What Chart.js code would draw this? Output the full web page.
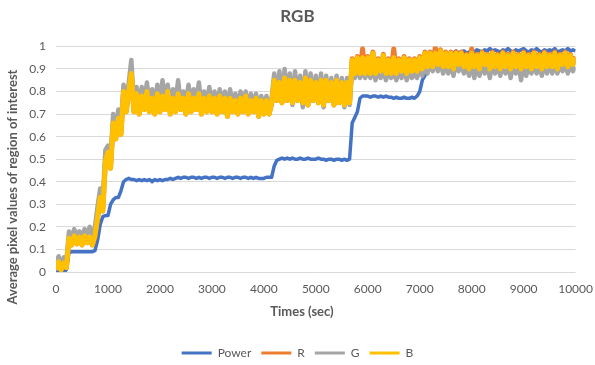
<!DOCTYPE html>
<html><head><meta charset="utf-8">
<script src="https://cdn.jsdelivr.net/npm/chart.js@4/dist/chart.umd.min.js"></script>
<style>html,body{margin:0;padding:0;background:#fff}</style>
</head><body>
<canvas id="c" width="595" height="365"></canvas>
<script>
const chartTitle = 'RGB';
const xTitle = 'Times (sec)';
const yTitle = 'Average pixel values of region of interest';
const seriesNames = ['Power', 'R', 'G', 'B'];

const times = [
  0,50,100,150,200,250,300,350,400,450,
  500,550,600,650,700,750,800,850,900,950,
  1000,1050,1100,1150,1200,1250,1300,1350,1400,1450,
  1500,1550,1600,1650,1700,1750,1800,1850,1900,1950,
  2000,2050,2100,2150,2200,2250,2300,2350,2400,2450,
  2500,2550,2600,2650,2700,2750,2800,2850,2900,2950,
  3000,3050,3100,3150,3200,3250,3300,3350,3400,3450,
  3500,3550,3600,3650,3700,3750,3800,3850,3900,3950,
  4000,4050,4100,4150,4200,4250,4300,4350,4400,4450,
  4500,4550,4600,4650,4700,4750,4800,4850,4900,4950,
  5000,5050,5100,5150,5200,5250,5300,5350,5400,5450,
  5500,5550,5600,5650,5700,5750,5800,5850,5900,5950,
  6000,6050,6100,6150,6200,6250,6300,6350,6400,6450,
  6500,6550,6600,6650,6700,6750,6800,6850,6900,6950,
  7000,7050,7100,7150,7200,7250,7300,7350,7400,7450,
  7500,7550,7600,7650,7700,7750,7800,7850,7900,7950,
  8000,8050,8100,8150,8200,8250,8300,8350,8400,8450,
  8500,8550,8600,8650,8700,8750,8800,8850,8900,8950,
  9000,9050,9100,9150,9200,9250,9300,9350,9400,9450,
  9500,9550,9600,9650,9700,9750,9800,9850,9900,9950,
  10000
];

const power = [
  0.00,0.00,0.00,0.00,0.01,0.085,0.09,0.09,0.09,0.09,
  0.09,0.09,0.09,0.09,0.09,0.095,0.14,0.21,0.245,0.25,
  0.25,0.30,0.32,0.33,0.33,0.36,0.40,0.41,0.415,0.41,
  0.41,0.405,0.41,0.405,0.41,0.405,0.41,0.40,0.41,0.405,
  0.41,0.405,0.41,0.41,0.415,0.41,0.415,0.42,0.415,0.42,
  0.42,0.415,0.42,0.42,0.415,0.42,0.415,0.42,0.42,0.415,
  0.42,0.42,0.415,0.42,0.42,0.415,0.42,0.42,0.415,0.42,
  0.42,0.415,0.42,0.42,0.415,0.42,0.415,0.42,0.415,0.415,
  0.415,0.42,0.42,0.42,0.47,0.495,0.50,0.505,0.50,0.505,
  0.50,0.505,0.50,0.50,0.505,0.50,0.50,0.505,0.50,0.50,
  0.50,0.505,0.50,0.50,0.495,0.50,0.50,0.495,0.50,0.50,
  0.495,0.50,0.495,0.50,0.66,0.685,0.71,0.77,0.78,0.78,
  0.78,0.775,0.78,0.78,0.775,0.78,0.775,0.78,0.775,0.775,
  0.77,0.775,0.77,0.77,0.775,0.77,0.77,0.775,0.77,0.78,
  0.80,0.85,0.87,0.90,0.93,0.95,0.96,0.97,0.96,0.97,
  0.97,0.96,0.975,0.97,0.98,0.97,0.975,0.98,0.97,0.975,
  0.98,0.975,0.985,0.98,0.975,0.985,0.98,0.99,0.98,0.985,
  0.98,0.975,0.985,0.98,0.99,0.98,0.975,0.985,0.98,0.985,
  0.99,0.98,0.975,0.985,0.98,0.99,0.98,0.975,0.985,0.98,
  0.985,0.98,0.99,0.975,0.98,0.985,0.98,0.99,0.98,0.985,
  0.98
];

const red = [
  0.01,0.04,0.01,0.035,0.02,0.145,0.12,0.155,0.125,0.15,
  0.12,0.155,0.13,0.15,0.12,0.155,0.24,0.325,0.27,0.485,
  0.525,0.46,0.655,0.59,0.675,0.61,0.795,0.71,0.795,0.875,
  0.71,0.785,0.70,0.775,0.72,0.795,0.71,0.765,0.70,0.785,
  0.71,0.775,0.72,0.795,0.70,0.765,0.71,0.785,0.72,0.765,
  0.70,0.785,0.71,0.765,0.72,0.785,0.70,0.765,0.71,0.775,
  0.71,0.765,0.70,0.775,0.71,0.765,0.69,0.765,0.71,0.755,
  0.70,0.765,0.71,0.775,0.70,0.755,0.71,0.765,0.69,0.755,
  0.70,0.755,0.70,0.745,0.845,0.76,0.835,0.75,0.855,0.76,
  0.845,0.75,0.845,0.76,0.835,0.75,0.855,0.74,0.845,0.76,
  0.835,0.75,0.845,0.74,0.845,0.76,0.835,0.74,0.845,0.75,
  0.835,0.74,0.835,0.75,0.945,0.88,0.955,0.88,0.99,0.88,
  0.955,0.88,0.975,0.88,0.945,0.89,0.965,0.88,0.945,0.88,
  0.99,0.88,0.945,0.89,0.955,0.88,0.945,0.89,0.945,0.89,
  0.955,0.90,0.975,0.91,0.975,0.91,0.995,0.92,0.985,0.91,
  0.975,0.91,0.975,0.90,0.975,0.92,0.975,0.91,0.965,0.90,
  0.99,0.91,0.965,0.90,0.975,0.92,0.965,0.90,0.975,0.91,
  0.965,0.90,0.975,0.91,0.965,0.90,0.975,0.91,0.965,0.90,
  0.975,0.91,0.965,0.90,0.975,0.91,0.965,0.90,0.975,0.91,
  0.965,0.91,0.975,0.90,0.965,0.92,0.975,0.91,0.965,0.92,
  0.955
];

const green = [
  0.04,0.07,0.035,0.065,0.05,0.18,0.15,0.19,0.16,0.18,
  0.16,0.19,0.17,0.20,0.16,0.20,0.29,0.37,0.32,0.54,
  0.56,0.51,0.70,0.65,0.72,0.66,0.83,0.75,0.84,0.94,
  0.74,0.82,0.74,0.82,0.76,0.84,0.74,0.81,0.74,0.83,
  0.75,0.85,0.76,0.83,0.74,0.81,0.75,0.85,0.75,0.80,
  0.74,0.83,0.75,0.81,0.76,0.84,0.74,0.80,0.75,0.82,
  0.74,0.80,0.73,0.81,0.74,0.80,0.72,0.81,0.74,0.79,
  0.73,0.80,0.74,0.80,0.73,0.79,0.74,0.79,0.72,0.78,
  0.72,0.78,0.72,0.77,0.88,0.77,0.89,0.76,0.90,0.78,
  0.88,0.74,0.89,0.77,0.87,0.73,0.89,0.75,0.88,0.76,
  0.87,0.75,0.88,0.73,0.87,0.76,0.86,0.74,0.87,0.75,
  0.86,0.73,0.86,0.74,0.90,0.86,0.91,0.86,0.90,0.86,
  0.90,0.86,0.91,0.85,0.89,0.86,0.90,0.85,0.89,0.86,
  0.89,0.85,0.89,0.86,0.90,0.85,0.89,0.86,0.88,0.86,
  0.90,0.87,0.92,0.88,0.93,0.89,0.93,0.89,0.94,0.88,
  0.93,0.88,0.93,0.87,0.93,0.89,0.93,0.88,0.92,0.87,
  0.93,0.86,0.92,0.87,0.93,0.88,0.92,0.86,0.93,0.88,
  0.92,0.87,0.93,0.88,0.92,0.86,0.93,0.88,0.92,0.85,
  0.93,0.87,0.92,0.88,0.93,0.88,0.92,0.87,0.93,0.88,
  0.92,0.88,0.93,0.88,0.92,0.89,0.93,0.88,0.92,0.89,
  0.91
];

const blue = [
  0.01,0.045,0.01,0.04,0.02,0.15,0.12,0.16,0.125,0.155,
  0.12,0.16,0.13,0.155,0.12,0.16,0.24,0.33,0.27,0.49,
  0.53,0.46,0.66,0.59,0.68,0.61,0.80,0.71,0.80,0.88,
  0.71,0.79,0.70,0.78,0.72,0.80,0.71,0.77,0.70,0.79,
  0.71,0.78,0.72,0.80,0.70,0.77,0.71,0.79,0.72,0.77,
  0.70,0.79,0.71,0.77,0.72,0.79,0.70,0.77,0.71,0.78,
  0.71,0.77,0.70,0.78,0.71,0.77,0.69,0.77,0.71,0.76,
  0.70,0.77,0.71,0.78,0.70,0.76,0.71,0.77,0.69,0.76,
  0.70,0.76,0.70,0.75,0.85,0.76,0.84,0.75,0.86,0.76,
  0.85,0.75,0.85,0.76,0.84,0.75,0.86,0.74,0.85,0.76,
  0.84,0.75,0.85,0.74,0.85,0.76,0.84,0.74,0.85,0.75,
  0.84,0.74,0.84,0.75,0.94,0.88,0.95,0.88,0.95,0.88,
  0.95,0.88,0.97,0.88,0.94,0.89,0.96,0.88,0.94,0.88,
  0.95,0.88,0.94,0.89,0.95,0.88,0.94,0.89,0.94,0.89,
  0.95,0.90,0.97,0.91,0.97,0.91,0.97,0.92,0.98,0.91,
  0.97,0.91,0.97,0.90,0.97,0.92,0.97,0.91,0.96,0.90,
  0.97,0.91,0.96,0.90,0.97,0.92,0.96,0.90,0.97,0.91,
  0.96,0.90,0.97,0.91,0.96,0.90,0.97,0.91,0.96,0.90,
  0.97,0.91,0.96,0.90,0.97,0.91,0.96,0.90,0.97,0.91,
  0.96,0.91,0.97,0.90,0.96,0.92,0.97,0.91,0.96,0.92,
  0.95
];

const xTicks = [0,1000,2000,3000,4000,5000,6000,7000,8000,9000,10000];
const yTicks = [0,0.1,0.2,0.3,0.4,0.5,0.6,0.7,0.8,0.9,1];

const colors = ['#4472C4', '#ED7D31', '#A5A5A5', '#FFC000'];
const widths = [3.5, 5, 4.5, 5];
const drawOrder = [4, 3, 2, 1];
const values = [power, red, green, blue];

const FONT = 'Lato, "Liberation Sans", sans-serif';
const TXT = '#595959';

const datasets = values.map((vals, k) => ({
  label: seriesNames[k],
  data: times.map((t, i) => ({ x: t, y: vals[i] })),
  borderColor: colors[k],
  backgroundColor: colors[k],
  borderWidth: widths[k],
  borderJoinStyle: 'round',
  pointRadius: 0,
  tension: 0,
  order: drawOrder[k]
}));

// Axis titles, placed where the original chart has them
const axisTitlePlugin = {
  id: 'axisTitles',
  afterDraw(chart) {
    const ctx = chart.ctx;
    ctx.save();
    ctx.font = 'bold 13px ' + FONT;
    ctx.fillStyle = TXT;
    ctx.textAlign = 'center';
    ctx.textBaseline = 'middle';
    ctx.fillText(xTitle, 302, 312);
    ctx.translate(13, 187);
    ctx.rotate(-Math.PI / 2);
    ctx.fillText(yTitle, 0, 0);
    ctx.restore();
  }
};

new Chart(document.getElementById('c'), {
  type: 'line',
  data: { datasets },
  plugins: [axisTitlePlugin],
  options: {
    responsive: false,
    animation: false,
    layout: { padding: { left: 0, right: 0, top: 0, bottom: -4 } },
    plugins: {
      title: {
        display: true, text: chartTitle, color: TXT,
        font: { family: FONT, size: 17, weight: 'bold' },
        padding: { top: 6, bottom: 20 }
      },
      legend: {
        position: 'bottom',
        labels: {
          color: TXT, font: { family: FONT, size: 12 },
          boxWidth: 30, boxHeight: 3, padding: 10,
          generateLabels: (chart) => chart.data.datasets.map((d, i) => ({
            text: d.label, fillStyle: d.borderColor, strokeStyle: d.borderColor,
            lineWidth: 0, hidden: false, datasetIndex: i, fontColor: TXT
          }))
        }
      },
      tooltip: { enabled: false }
    },
    scales: {
      x: {
        type: 'linear', min: 0, max: 10000,
        afterBuildTicks: (s) => { s.ticks = xTicks.map(v => ({ value: v })); },
        afterFit: (s) => { s.height = 65; },
        ticks: { color: TXT, font: { family: FONT, size: 12 }, padding: 2, maxRotation: 0,
                 callback: (v) => String(v) },
        grid: { display: false },
        border: { display: false },
        title: { display: false, text: xTitle }
      },
      y: {
        min: 0, max: 1,
        afterBuildTicks: (s) => { s.ticks = yTicks.map(v => ({ value: v })); },
        afterFit: (s) => { s.width = 56; },
        ticks: { color: TXT, font: { family: FONT, size: 12 }, padding: 10,
                 callback: (v) => String(v) },
        grid: { color: '#d9d9d9', lineWidth: 1, drawTicks: false },
        border: { display: false },
        title: { display: false, text: yTitle }
      }
    }
  }
});
</script>
</body></html>
